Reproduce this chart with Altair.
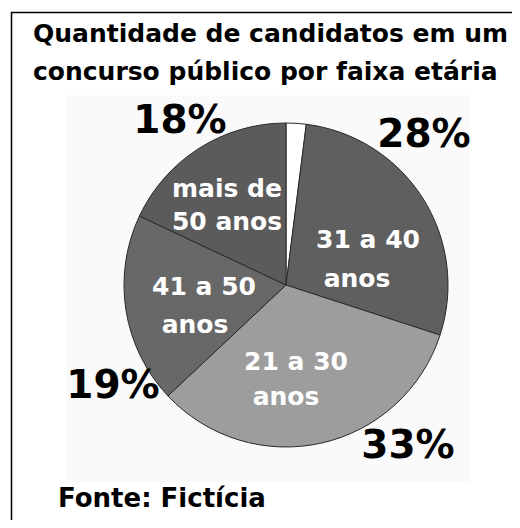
import altair as alt
import pandas as pd

# ---- data ----
faixas = ["outros", "31 a 40 anos", "21 a 30 anos", "41 a 50 anos", "mais de 50 anos"]
percentuais = [2, 28, 33, 19, 18]
cores = ["#ffffff", "#5f5f5f", "#9d9d9d", "#686868", "#5b5b5b"]
rotulos_internos = [[], ["31 a 40", "anos"], ["21 a 30", "anos"], ["41 a 50", "anos"], ["mais de", "50 anos"]]
titulo = ["Quantidade de candidatos em um", "concurso público por faixa etária"]
fonte = "Fonte: Fictícia"

# ---- layout (image pixel coords; chart origin is at page offset 8) ----
OFF = 8
CX, CY, R = 286 - OFF, 285 - OFF, 162
pos_interno = {
    "31 a 40 anos": [(368, 248), (357, 287)],
    "21 a 30 anos": [(296, 370), (286, 405)],
    "41 a 50 anos": [(204, 295), (195, 333)],
    "mais de 50 anos": [(227, 197), (227, 230)],
}
pos_pct = {
    "31 a 40 anos": (424, 147),
    "21 a 30 anos": (408, 458),
    "41 a 50 anos": (113, 398),
    "mais de 50 anos": (180, 133),
}
pos_titulo = [(33, 42), (33, 80)]
pos_fonte = (58, 507)

FONT = "DejaVu Sans"

pie_df = pd.DataFrame({"faixa": faixas, "pct": percentuais, "ordem": list(range(len(faixas)))})

rows_in = []
for f, linhas in zip(faixas, rotulos_internos):
    for t, (x, y) in zip(linhas, pos_interno.get(f, [])):
        rows_in.append({"t": t, "x": x - OFF, "y": y - OFF})
in_df = pd.DataFrame(rows_in)

rows_pct = []
for f, p in zip(faixas, percentuais):
    if f in pos_pct:
        x, y = pos_pct[f]
        rows_pct.append({"t": f"{p}%", "x": x - OFF, "y": y - OFF})
pct_df = pd.DataFrame(rows_pct)

tit_df = pd.DataFrame([{"t": t, "x": x - OFF, "y": y - OFF} for t, (x, y) in zip(titulo, pos_titulo)])
fon_df = pd.DataFrame([{"t": fonte, "x": pos_fonte[0] - OFF, "y": pos_fonte[1] - OFF}])

dummy = pd.DataFrame({"a": [0]})

bg = alt.Chart(dummy).mark_rect(color="#fafafa").encode(
    x=alt.value(59), x2=alt.value(462), y=alt.value(87), y2=alt.value(474)
)

left_rule = alt.Chart(dummy).mark_rule(color="black", strokeWidth=1.5).encode(
    x=alt.value(3.5), y=alt.value(4), y2=alt.value(512)
)
top_rule = alt.Chart(dummy).mark_rule(color="black", strokeWidth=1.5).encode(
    x=alt.value(3), x2=alt.value(504), y=alt.value(4.5)
)

pie = alt.Chart(pie_df).mark_arc(outerRadius=R, stroke="#2a2a2a", strokeWidth=1).encode(
    theta=alt.Theta("pct:Q", stack=True),
    color=alt.Color("faixa:N", scale=alt.Scale(domain=faixas, range=cores), legend=None),
    order=alt.Order("ordem:Q"),
    x=alt.value(CX),
    y=alt.value(CY),
)


def texto(df, size, color, align="center"):
    return alt.Chart(df).mark_text(
        font=FONT, fontWeight="bold", fontSize=size, color=color,
        align=align, baseline="alphabetic"
    ).encode(
        x=alt.X("x:Q", scale=None, axis=None),
        y=alt.Y("y:Q", scale=None, axis=None),
        text="t:N",
    )


chart = alt.layer(
    bg,
    pie,
    texto(in_df, 25, "white"),
    texto(pct_df, 39, "black"),
    texto(tit_df, 25, "black", align="left"),
    texto(fon_df, 26, "black", align="left"),
    left_rule,
    top_rule,
).properties(
    width=504,
    height=512,
    autosize=alt.AutoSizeParams(type="none"),
    padding=0,
    background="white",
).configure_view(stroke=None)

chart.save("out.html", embed_options={"renderer": "svg", "actions": False})
